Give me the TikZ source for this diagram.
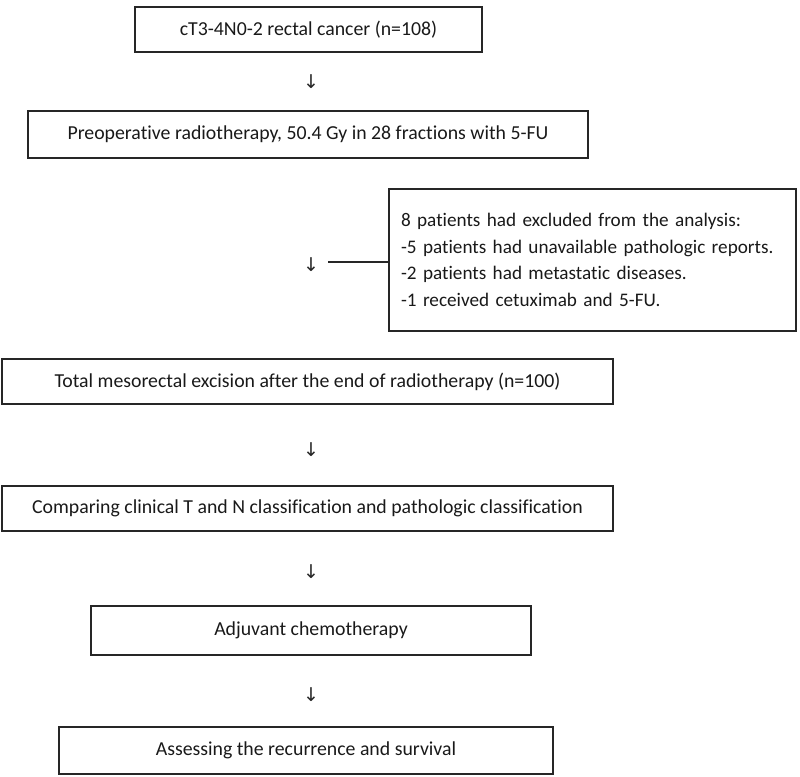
\documentclass[tikz,border=0pt]{standalone}
\usepackage{fontspec}
\setmainfont{Carlito}[Ligatures=NoCommon]
\newfontfamily\arrowfont{DejaVu Sans}

\begin{document}
\begin{tikzpicture}[x=0.5pt,y=-0.5pt,
    box/.style={draw=black!85,line width=0.8pt,inner sep=0pt,text=black!90,font=\fontsize{9.9}{13.3}\selectfont},
    down/.style={inner sep=0pt,text=black!85,font=\arrowfont\fontsize{9.5}{9.5}\selectfont}]
      \useasboundingbox (0,0) rectangle (800,777);
      \node[box,minimum width=173.5pt,minimum height=22.5pt] (cancer) at (308.5,29.5) {cT3-4N0-2 rectal cancer (n=108)};
      \node[box,minimum width=280pt,minimum height=23.5pt] (rt) at (308,134.5) {Preoperative radiotherapy, 50.4 Gy in 28 fractions with 5-FU};
      \node[box,minimum width=203.5pt,minimum height=71pt,inner sep=6pt,text width=191.5pt,align=left,font=\fontsize{9.6}{13.3}\selectfont] (excl) at (592.5,260) {8 patients had excluded from the analysis:\\
        -5 patients had unavailable pathologic reports.\\
        -2 patients had metastatic diseases.\\
        -1 received cetuximab and 5-FU.};
      \node[box,minimum width=305.5pt,minimum height=22.5pt] (tme) at (307.5,381.5) {Total mesorectal excision after the end of radiotherapy (n=100)};
      \node[box,minimum width=305.5pt,minimum height=22.5pt] (cmp) at (307.5,508.5) {Comparing clinical T and N classification and pathologic classification};
      \node[box,minimum width=220pt,minimum height=24.5pt] (chemo) at (311,630.5) {Adjuvant chemotherapy};
      \node[box,minimum width=247pt,minimum height=23.5pt] (surv) at (306,750.5) {Assessing the recurrence and survival};
      \node[down] (d1) at (311,82) {↓};
      \node[down] (d2) at (311,265) {↓};
      \node[down] (d3) at (311,450) {↓};
      \node[down] (d4) at (311,572) {↓};
      \node[down] (d5) at (311,695) {↓};
      \coordinate (j) at (328,262);
      \draw[draw=black!85,line width=0.8pt] (j) -- (j -| excl.west);
    \end{tikzpicture}
\end{document}
